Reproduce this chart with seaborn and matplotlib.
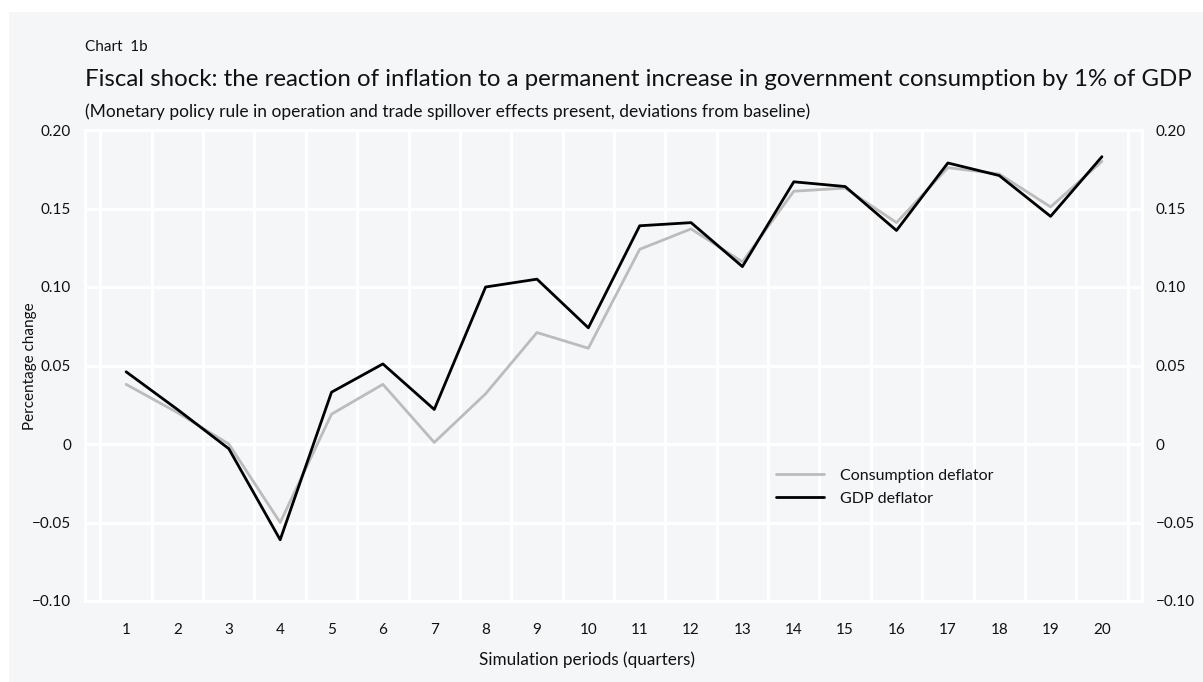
import matplotlib
matplotlib.use("Agg")
import matplotlib.pyplot as plt
from matplotlib.patches import Rectangle
import numpy as np
import pandas as pd
import seaborn as sns

# data
periods = list(range(1, 21))
consumption_deflator = [0.038, 0.020, 0.000, -0.050, 0.019, 0.038, 0.001, 0.032, 0.071, 0.061,
                        0.124, 0.137, 0.116, 0.161, 0.163, 0.141, 0.176, 0.172, 0.151, 0.180]
gdp_deflator = [0.046, 0.022, -0.003, -0.061, 0.033, 0.051, 0.022, 0.100, 0.105, 0.074,
                0.139, 0.141, 0.113, 0.167, 0.164, 0.136, 0.179, 0.171, 0.145, 0.183]
series_names = ["Consumption deflator", "GDP deflator"]
y_ticks = [-0.10, -0.05, 0, 0.05, 0.10, 0.15, 0.20]
y_tick_labels = ["\u22120.10", "\u22120.05", "0", "0.05", "0.10", "0.15", "0.20"]

df = pd.DataFrame({
    "period": periods * 2,
    "value": consumption_deflator + gdp_deflator,
    "series": [series_names[0]] * 20 + [series_names[1]] * 20,
})

bg = "#f5f6f8"
txt = "#111111"
sns.set_theme(style="white")
plt.rcParams["font.family"] = ["Lato", "DejaVu Sans"]

fig = plt.figure(figsize=(12.03, 6.82), dpi=100, facecolor="white")
fig.patches.append(Rectangle((9 / 1203, 0), 1 - 9 / 1203, 1 - 12 / 682,
                             transform=fig.transFigure, facecolor=bg,
                             edgecolor="none", zorder=-1))
ax = fig.add_axes([85 / 1203, 1 - 601 / 682, (1142 - 85) / 1203, (601 - 130) / 682])
ax.set_facecolor(bg)

sns.lineplot(data=df, x="period", y="value", hue="series",
             palette={series_names[0]: "#bcbcbc", series_names[1]: "#000000"},
             linewidth=2.0, ax=ax, legend=True)

ax.set_xlim(0.2, 20.78)
ax.set_ylim(-0.10, 0.20)
ax.set_xticks(periods)
ax.set_xticklabels([str(p) for p in periods])
ax.set_xticks(np.arange(0.5, 21, 1), minor=True)
ax.set_yticks(y_ticks)
ax.set_yticklabels(y_tick_labels)

ax.grid(False)
ax.grid(True, which="minor", axis="x", color="white", linewidth=2.2)
ax.grid(True, which="major", axis="y", color="white", linewidth=2.2)
ax.set_axisbelow(True)
for s in ax.spines.values():
    s.set_color("white")
    s.set_linewidth(2.2)

ax.tick_params(axis="x", which="both", length=0, pad=15.5, labelsize=11, colors=txt)
ax.tick_params(axis="y", which="both", length=0, pad=10, labelsize=11, colors=txt,
               labelright=True, right=False)

ax.set_xlabel("Simulation periods (quarters)", fontsize=12.3, color=txt)
ax.xaxis.set_label_coords((587 - 85) / 1057, -(660 - 601) / 471)
ax.set_ylabel("Percentage change", fontsize=11, color=txt)
ax.yaxis.set_label_coords((30 - 85) / 1057, (601 - 366) / 471)
ax.xaxis.label.set_va("center")
ax.yaxis.label.set_va("center")

leg = ax.legend(loc="upper left", bbox_to_anchor=(762 / 1203, 1 - 454 / 682),
                bbox_transform=fig.transFigure, frameon=False, fontsize=11.5,
                handlelength=3.0, handletextpad=1.0, labelspacing=0.55, title=None)
for t in leg.get_texts():
    t.set_color(txt)

fig.text(85 / 1203, 1 - 47 / 682, "Chart  1b", fontsize=11, va="center", ha="left", color=txt)
fig.text(85 / 1203, 1 - 79 / 682,
         "Fiscal shock: the reaction of inflation to a permanent increase in government consumption by 1% of GDP",
         fontsize=17.3, va="center", ha="left", color=txt)
fig.text(85 / 1203, 1 - 112 / 682,
         "(Monetary policy rule in operation and trade spillover effects present, deviations from baseline)",
         fontsize=12.5, va="center", ha="left", color=txt)

fig.savefig("out.png", dpi=100, facecolor=fig.get_facecolor())
